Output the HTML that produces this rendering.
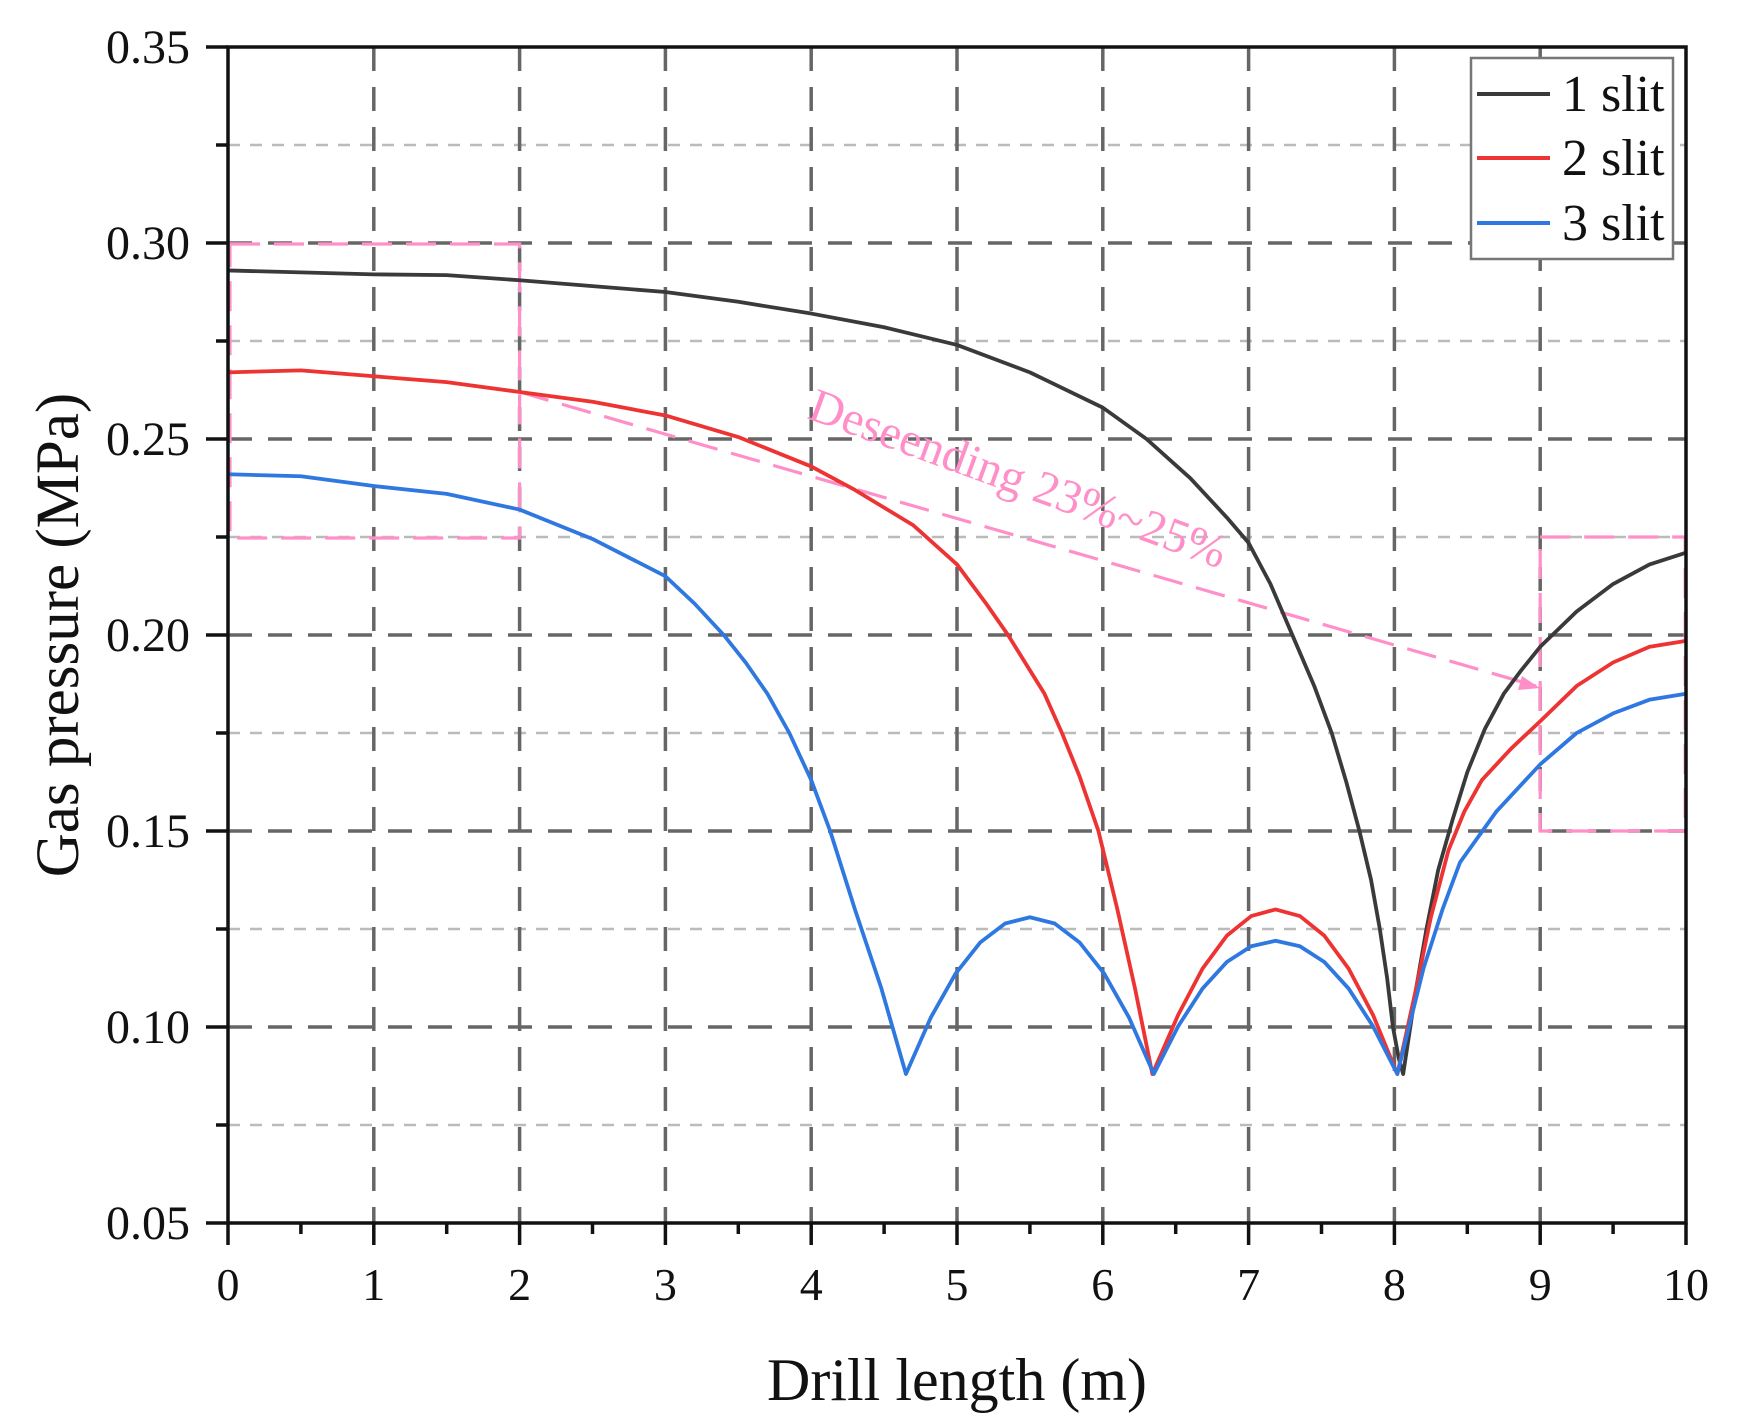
<!DOCTYPE html>
<html><head><style>
html,body{margin:0;padding:0;background:#fff;}
svg{display:block;}
text{font-family:"Liberation Serif",serif;fill:#111;}
</style></head><body>
<svg width="1746" height="1428" viewBox="0 0 1746 1428" xmlns="http://www.w3.org/2000/svg">
<rect width="1746" height="1428" fill="#fff"/>
<g stroke="#bbb" stroke-width="2.5" stroke-dasharray="12 10">
<line x1="228" x2="1686" y1="1125" y2="1125"/>
<line x1="228" x2="1686" y1="929" y2="929"/>
<line x1="228" x2="1686" y1="733" y2="733"/>
<line x1="228" x2="1686" y1="537" y2="537"/>
<line x1="228" x2="1686" y1="341" y2="341"/>
<line x1="228" x2="1686" y1="145" y2="145"/>
</g>
<g stroke="#666" stroke-width="3.5" stroke-dasharray="24 16">
<line x1="228" x2="1686" y1="1027" y2="1027"/>
<line x1="228" x2="1686" y1="831" y2="831"/>
<line x1="228" x2="1686" y1="635" y2="635"/>
<line x1="228" x2="1686" y1="439" y2="439"/>
<line x1="228" x2="1686" y1="243" y2="243"/>
<line y1="47" y2="1223" x1="373.8" x2="373.8"/>
<line y1="47" y2="1223" x1="519.6" x2="519.6"/>
<line y1="47" y2="1223" x1="665.4" x2="665.4"/>
<line y1="47" y2="1223" x1="811.2" x2="811.2"/>
<line y1="47" y2="1223" x1="957" x2="957"/>
<line y1="47" y2="1223" x1="1102.8" x2="1102.8"/>
<line y1="47" y2="1223" x1="1248.6" x2="1248.6"/>
<line y1="47" y2="1223" x1="1394.4" x2="1394.4"/>
<line y1="47" y2="1223" x1="1540.2" x2="1540.2"/>
</g>
<g stroke="#ff8fc8" stroke-width="3.2" fill="none" stroke-dasharray="30 14">
<rect x="230" y="244" width="289.6" height="294"/>
<rect x="1540.2" y="537" width="145" height="294"/>
<line x1="519.6" y1="392" x2="1536" y2="686"/>
</g>
<polygon points="1540,688 1518,690 1522,676" fill="#ff8fc8"/>
<text x="0" y="0" font-size="48" style="fill:#ff8fc8" transform="translate(806,418) rotate(20)">Deseending 23%~25%</text>
<g transform="translate(228,1223) scale(145.8,-3920) translate(0,-0.05)" fill="none" stroke-width="3.8" stroke-linejoin="round">
<polyline vector-effect="non-scaling-stroke" stroke="#3a3a3a" points="0,.293 .5,.2925 1,.292 1.5,.2918 2,.2905 2.5,.289 3,.2875 3.5,.285 4,.282 4.5,.2785 5,.274 5.5,.267 6,.258 6.3,.25 6.6,.24 6.85,.23 7,.2235 7.15,.213 7.3,.2 7.45,.187 7.57,.175 7.67,.1625 7.76,.15 7.84,.1375 7.9,.125 7.95,.1125 7.99,.1 8.03,.092 8.06,.088 8.15,.11 8.22,.125 8.3,.14 8.4,.153 8.5,.165 8.62,.176 8.75,.185 8.87,.191 9,.197 9.25,.206 9.5,.213 9.75,.218 10,.221"/>
<polyline vector-effect="non-scaling-stroke" stroke="#ee3333" points="0,.267 .5,.2675 1,.266 1.5,.2645 2,.262 2.5,.2595 3,.256 3.5,.2505 4,.243 4.3,.237 4.7,.228 5,.218 5.2,.208 5.35,.2 5.6,.185 5.72,.175 5.84,.164 5.97,.15 6.1,.13 6.22,.11 6.34,.088 6.517,.1031 6.684,.1149 6.851,.1233 7.018,.1283 7.185,.130 7.352,.1283 7.519,.1233 7.686,.1149 7.853,.1031 8.02,.088 8.15,.11 8.25,.128 8.37,.145 8.48,.155 8.6,.163 8.8,.171 9,.178 9.25,.187 9.5,.193 9.75,.197 10,.1985"/>
<polyline vector-effect="non-scaling-stroke" stroke="#2f78e0" points="0,.241 .5,.2405 1,.238 1.5,.236 2,.232 2.5,.2245 3,.215 3.2,.208 3.4,.2 3.55,.193 3.7,.185 3.85,.175 4,.163 4.13,.15 4.3,.13 4.48,.11 4.65,.088 4.82,.1024 4.99,.1136 5.16,.1216 5.33,.1264 5.5,.128 5.67,.1264 5.84,.1216 6.01,.1136 6.18,.1024 6.35,.088 6.517,.1002 6.684,.1098 6.851,.1166 7.018,.1206 7.185,.122 7.352,.1206 7.519,.1166 7.686,.1098 7.853,.1002 8.02,.088 8.2,.115 8.33,.13 8.45,.142 8.7,.155 9,.167 9.25,.175 9.5,.18 9.75,.1835 10,.185"/>
</g>
<rect x="228" y="47" width="1458" height="1176" fill="none" stroke="#111" stroke-width="3.5"/>
<g stroke="#111" stroke-width="3.5">
<line x1="206" x2="228" y1="1223" y2="1223"/><line x1="206" x2="228" y1="1027" y2="1027"/><line x1="206" x2="228" y1="831" y2="831"/><line x1="206" x2="228" y1="635" y2="635"/><line x1="206" x2="228" y1="439" y2="439"/><line x1="206" x2="228" y1="243" y2="243"/><line x1="206" x2="228" y1="47" y2="47"/>
<line x1="216" x2="228" y1="1125" y2="1125"/><line x1="216" x2="228" y1="929" y2="929"/><line x1="216" x2="228" y1="733" y2="733"/><line x1="216" x2="228" y1="537" y2="537"/><line x1="216" x2="228" y1="341" y2="341"/><line x1="216" x2="228" y1="145" y2="145"/>
</g>
<g stroke="#111" stroke-width="3.5">
<line y1="1223" y2="1245" x1="228" x2="228"/><line y1="1223" y2="1245" x1="373.8" x2="373.8"/><line y1="1223" y2="1245" x1="519.6" x2="519.6"/><line y1="1223" y2="1245" x1="665.4" x2="665.4"/><line y1="1223" y2="1245" x1="811.2" x2="811.2"/><line y1="1223" y2="1245" x1="957" x2="957"/><line y1="1223" y2="1245" x1="1102.8" x2="1102.8"/><line y1="1223" y2="1245" x1="1248.6" x2="1248.6"/><line y1="1223" y2="1245" x1="1394.4" x2="1394.4"/><line y1="1223" y2="1245" x1="1540.2" x2="1540.2"/><line y1="1223" y2="1245" x1="1686" x2="1686"/>
<line y1="1223" y2="1234" x1="300.9" x2="300.9"/><line y1="1223" y2="1234" x1="446.7" x2="446.7"/><line y1="1223" y2="1234" x1="592.5" x2="592.5"/><line y1="1223" y2="1234" x1="738.3" x2="738.3"/><line y1="1223" y2="1234" x1="884.1" x2="884.1"/><line y1="1223" y2="1234" x1="1029.9" x2="1029.9"/><line y1="1223" y2="1234" x1="1175.7" x2="1175.7"/><line y1="1223" y2="1234" x1="1321.5" x2="1321.5"/><line y1="1223" y2="1234" x1="1467.3" x2="1467.3"/><line y1="1223" y2="1234" x1="1613.1" x2="1613.1"/>
</g>
<g font-size="48" text-anchor="end">
<text x="190" y="1239">0.05</text><text x="190" y="1043">0.10</text><text x="190" y="847">0.15</text><text x="190" y="651">0.20</text><text x="190" y="455">0.25</text><text x="190" y="259">0.30</text><text x="190" y="63">0.35</text>
</g>
<g font-size="46" text-anchor="middle">
<text x="228" y="1300">0</text><text x="373.8" y="1300">1</text><text x="519.6" y="1300">2</text><text x="665.4" y="1300">3</text><text x="811.2" y="1300">4</text><text x="957" y="1300">5</text><text x="1102.8" y="1300">6</text><text x="1248.6" y="1300">7</text><text x="1394.4" y="1300">8</text><text x="1540.2" y="1300">9</text><text x="1686" y="1300">10</text>
</g>
<text x="957" y="1400" font-size="60" text-anchor="middle">Drill length (m)</text>
<text x="0" y="0" font-size="61" text-anchor="middle" transform="translate(78,635) rotate(-90)">Gas pressure (MPa)</text>
<rect x="1471" y="58" width="202" height="201" fill="#fff" stroke="#777" stroke-width="2.5"/>
<line x1="1477" x2="1550" y1="94" y2="94" stroke="#3a3a3a" stroke-width="4"/>
<line x1="1477" x2="1550" y1="158" y2="158" stroke="#ee3333" stroke-width="4"/>
<line x1="1477" x2="1550" y1="223" y2="223" stroke="#2f78e0" stroke-width="4"/>
<g font-size="52">
<text x="1562" y="111">1 slit</text><text x="1562" y="175">2 slit</text><text x="1562" y="240">3 slit</text>
</g>
</svg>
</body></html>
